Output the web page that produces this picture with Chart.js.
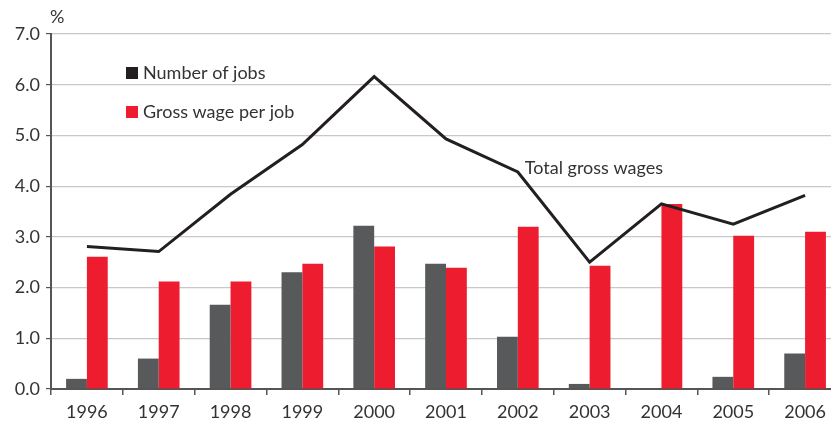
<!DOCTYPE html>
<html>
<head>
<meta charset="utf-8">
<script src="https://cdn.jsdelivr.net/npm/chart.js@4/dist/chart.umd.min.js"></script>
<style>
  html, body { margin: 0; padding: 0; background: #fff; overflow: hidden; }
  #wrap { position: relative; width: 841px; height: 428px; }
</style>
</head>
<body>
<div id="wrap"><canvas id="grafico"></canvas></div>
<script>
// dados
const anos = ['1996', '1997', '1998', '1999', '2000', '2001', '2002', '2003', '2004', '2005', '2006'];
const numeroEmpregos = [0.20, 0.60, 1.66, 2.30, 3.22, 2.47, 1.03, 0.10, 0.00, 0.24, 0.70];
const salarioPorEmprego = [2.61, 2.12, 2.12, 2.47, 2.81, 2.39, 3.20, 2.43, 3.65, 3.02, 3.10];
const salariosTotais = [2.81, 2.71, 3.84, 4.82, 6.16, 4.93, 4.28, 2.50, 3.65, 3.25, 3.82];
const ticksY = [0, 1, 2, 3, 4, 5, 6, 7];

const fonte = "Lato, 'Open Sans', sans-serif";
const corTexto = '#333333';

// legenda, unidade e rótulo da linha desenhados à mão
const extras = {
    id: 'extras',
    afterDatasetsDraw(chart) {
        const ctx = chart.ctx;
        const x = chart.scales.x, y = chart.scales.y;
        ctx.save();
        ctx.fillStyle = corTexto;
        ctx.font = '18px ' + fonte;
        ctx.textBaseline = 'middle';
        ctx.textAlign = 'left';
        ctx.fillText('%', 50, 17);

        const itens = [
            { txt: 'Number of jobs', cor: '#231f20', yy: 73 },
            { txt: 'Gross wage per job', cor: '#ed1c2e', yy: 112 }
        ];
        itens.forEach(it => {
            ctx.fillStyle = it.cor;
            ctx.fillRect(126, it.yy - 6, 12, 12);
            ctx.fillStyle = corTexto;
            ctx.fillText(it.txt, 143, it.yy);
        });

        // rótulo perto do ponto de 2002
        const px = x.getPixelForValue(6);
        const py = y.getPixelForValue(salariosTotais[6]);
        ctx.fillText('Total gross wages', px + 7, py - 4);
        ctx.restore();
    }
};

new Chart(document.querySelector('#grafico'), {
    data: {
        labels: anos,
        datasets: [
            {
                type: 'line',
                label: 'Total gross wages',
                data: salariosTotais,
                borderColor: '#231f20',
                borderWidth: 3,
                pointRadius: 0,
                tension: 0,
                order: 0
            },
            {
                type: 'bar',
                label: 'Number of jobs',
                data: numeroEmpregos,
                backgroundColor: '#58595b',
                categoryPercentage: 0.58,
                barPercentage: 1.0,
                order: 1
            },
            {
                type: 'bar',
                label: 'Gross wage per job',
                data: salarioPorEmprego,
                backgroundColor: '#ed1c2e',
                categoryPercentage: 0.58,
                barPercentage: 1.0,
                order: 1
            }
        ]
    },
    options: {
        responsive: true,
        maintainAspectRatio: false,
        animation: false,
        layout: { padding: { top: 34, right: 0, left: 0, bottom: 0 } },
        plugins: {
            legend: { display: false },
            tooltip: { enabled: false }
        },
        scales: {
            x: {
                offset: true,
                grid: {
                    offset: true,
                    drawOnChartArea: false,
                    drawTicks: true,
                    tickLength: 6,
                    tickColor: '#555555',
                    lineWidth: 1.5
                },
                border: { color: '#555555', width: 2 },
                ticks: {
                    color: corTexto,
                    font: { family: fonte, size: 18 },
                    padding: 6,
                    maxRotation: 0
                },
                afterFit(scale) { scale.height = 39; }
            },
            y: {
                min: 0,
                max: 7,
                afterBuildTicks(scale) {
                    scale.ticks = ticksY.map(v => ({ value: v }));
                },
                grid: {
                    color: '#c8c8c8',
                    lineWidth: 1.2,
                    tickLength: 5,
                    tickColor: '#555555'
                },
                border: { color: '#555555', width: 2 },
                ticks: {
                    color: corTexto,
                    font: { family: fonte, size: 18 },
                    padding: 6,
                    callback: v => v.toFixed(1)
                },
                afterFit(scale) { scale.width = 51; }
            }
        }
    },
    plugins: [extras]
});
</script>
</body>
</html>
